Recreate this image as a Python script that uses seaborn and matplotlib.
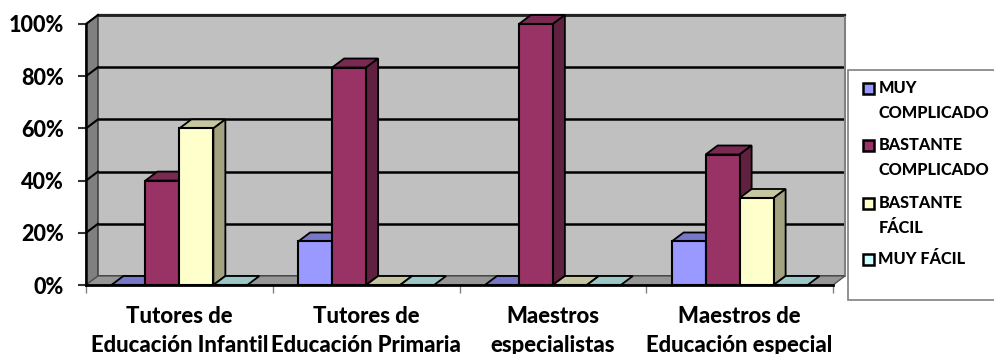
import matplotlib
matplotlib.use("Agg")
import matplotlib.pyplot as plt
from matplotlib.patches import Polygon, Rectangle
from matplotlib.ticker import PercentFormatter
import pandas as pd
import seaborn as sns

categories = ["Tutores de\nEducación Infantil", "Tutores de\nEducación Primaria",
              "Maestros\nespecialistas", "Maestros de\nEducación especial"]
muy_complicado = [0.0, 16.67, 0.0, 16.67]
bastante_complicado = [40.0, 83.33, 100.0, 50.0]
bastante_facil = [60.0, 0.0, 0.0, 33.33]
muy_facil = [0.0, 0.0, 0.0, 0.0]
series_names = ["MUY\nCOMPLICADO", "BASTANTE\nCOMPLICADO", "BASTANTE\nFÁCIL", "MUY FÁCIL"]
series_values = [muy_complicado, bastante_complicado, bastante_facil, muy_facil]

front_colors = ["#9999FF", "#993366", "#FFFFCC", "#CCFFFF"]
top_colors = ["#7777C7", "#7A2952", "#C6C6A0", "#9CC7C7"]
side_colors = ["#6B6BB3", "#60203F", "#A3A382", "#8FB3B3"]

W, H = 994, 354
DX, DY = 12, 9
LEFT, RIGHT, TOP, BOTTOM = 86, 833, 24, 285

plt.rcParams["font.family"] = ["Lato", "DejaVu Sans"]
plt.rcParams["font.weight"] = 900
fig = plt.figure(figsize=(W / 100, H / 100), dpi=100, facecolor="white")


def px_axes(x0, x1, y_top, y_bottom):
    return fig.add_axes([x0 / W, 1 - y_bottom / H, (x1 - x0) / W, (y_bottom - y_top) / H])


# Back wall, offset up and to the right of the front plane
back = px_axes(LEFT + DX, RIGHT + DX, TOP - DY, BOTTOM - DY)
back.set_facecolor("#C0C0C0")
back.set_xlim(0, 1)
back.set_ylim(0, 100)
back.set_yticks(range(0, 101, 20))
back.set_xticks([])
back.tick_params(left=False, labelleft=False)
back.grid(axis="y", color="black", lw=1.8)
back.set_axisbelow(True)
for name, spine in back.spines.items():
    spine.set_visible(name in ("top", "right"))
back.spines["top"].set_color("#222222")
back.spines["top"].set_linewidth(1.6)
back.spines["right"].set_color("#808080")
back.spines["right"].set_linewidth(1.5)

# Front plane holding the bars and axes
ax = px_axes(LEFT, RIGHT, TOP, BOTTOM)
ax.patch.set_visible(False)
frame = pd.DataFrame(
    [(c, s, v[i]) for s, v in zip(series_names, series_values) for i, c in enumerate(categories)],
    columns=["grupo", "serie", "valor"],
)
sns.barplot(data=frame, x="grupo", y="valor", hue="serie", hue_order=series_names,
            palette=front_colors, width=0.728, gap=0, saturation=1, legend=False,
            edgecolor="black", linewidth=1.5, ax=ax)
ax.set_xlim(-0.5, 3.5)
ax.set_ylim(0, 100)
ax.set_xlabel("")
ax.set_ylabel("")
ax.yaxis.set_major_formatter(PercentFormatter(100, decimals=0))
ax.set_yticks(range(0, 101, 20))
ax.tick_params(axis="y", length=6, width=1.5, color="#333333", labelsize=15.5, pad=10)
ax.tick_params(axis="x", length=0, labelsize=15.9, pad=15)
ax.set_xticks([-0.5, 0.5, 1.5, 2.5, 3.5], minor=True)
ax.tick_params(axis="x", which="minor", length=6, width=1, color="#808080")
for label in ax.get_xticklabels():
    label.set_linespacing(1.46)
ax.spines["top"].set_visible(False)
ax.spines["right"].set_visible(False)
ax.spines["left"].set_linewidth(1.8)
ax.spines["bottom"].set_linewidth(2)
ax.spines["bottom"].set_zorder(20)
fig.canvas.draw()


def to_px(x, y, depth=False):
    px, py = ax.transData.transform((x, y))
    return (px + DX, py + DY) if depth else (px, py)


def face(points, color, zorder, edge="black", lw=1.3):
    ax.add_patch(Polygon(points, closed=True, transform=None, facecolor=color,
                         edgecolor=edge, linewidth=lw, zorder=zorder, clip_on=False))


# Side wall and floor of the box
xmin, xmax = -0.5, 3.5
face([to_px(xmin, 0), to_px(xmin, 100), to_px(xmin, 100, True), to_px(xmin, 0, True)],
     "#808080", 0.5, edge="#333333", lw=1)
face([to_px(xmin, 0), to_px(xmax, 0), to_px(xmax, 0, True), to_px(xmin, 0, True)],
     "#969696", 0.5, edge="#555555", lw=1)
for tick in range(20, 101, 20):
    p, q = to_px(xmin, tick), to_px(xmin, tick, True)
    ax.plot([p[0], q[0]], [p[1], q[1]], transform=None, color="black", lw=1.5, zorder=0.8, clip_on=False)

# Extrude each bar into top and side faces
for i, container in enumerate(ax.containers):
    for bar in container:
        x0, x1 = bar.get_x(), bar.get_x() + bar.get_width()
        h = bar.get_height()
        bar.set_zorder(3 + i + 0.5)
        bar.set_clip_on(False)
        face([to_px(x0, h), to_px(x1, h), to_px(x1, h, True), to_px(x0, h, True)], top_colors[i], 3 + i)
        if h > 0:
            face([to_px(x1, 0), to_px(x1, 0, True), to_px(x1, h, True), to_px(x1, h)], side_colors[i], 3 + i)

# Legend box with handles aligned to the first line of each entry
overlay = fig.add_axes([0, 0, 1, 1], facecolor="none")
overlay.set_xlim(0, W)
overlay.set_ylim(H, 0)
overlay.axis("off")
overlay.add_patch(Rectangle((848, 70), 160, 230, facecolor="white", edgecolor="#808080", lw=1.2, clip_on=False))
entry_y = [88, 145, 203, 259]
for name, y, color in zip(series_names, entry_y, front_colors):
    overlay.add_patch(Rectangle((862.5, y - 5.5), 11, 11, facecolor=color, edgecolor="black", lw=1.8))
    overlay.text(878.5, y - 8, name, fontsize=11.7, va="top", ha="left",
                 linespacing=1.68, color="black")

fig.savefig("out.png", dpi=100)
